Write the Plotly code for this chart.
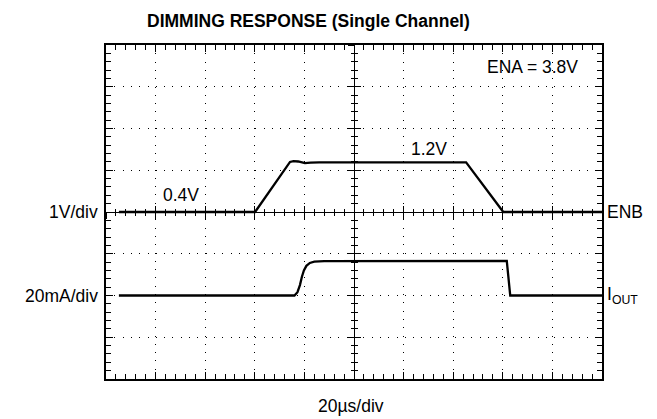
import plotly.graph_objects as go

# Time axis in microseconds (20 us/div, 10 divisions); vertical axis in divisions
enb_t = [5.2, 60.1, 74.2, 75.6, 77.5, 80.2, 82.5, 86.0, 145.2, 160.2, 200.0]
enb_v = [0.0, 0.0, 1.20, 1.22, 1.21, 1.17, 1.185, 1.19, 1.19, 0.0, 0.0]

iout_t = [5.2, 76.0, 77.2, 78.2, 79.0, 79.8, 80.8, 82.2, 84.0, 88.0, 161.6, 163.0, 200.0]
iout_v = [-2.0, -2.0, -1.92, -1.75, -1.55, -1.40, -1.29, -1.22, -1.19, -1.175, -1.17, -2.0, -2.0]

x_range = [0, 200]
y_range = [-4, 4]
x_major, x_minor = 20, 4
y_major, y_minor = 1, 0.2

FONT = "Liberation Sans, Arial, Helvetica, sans-serif"
FS = 17.5

fig = go.Figure()
fig.add_trace(go.Scatter(x=enb_t, y=enb_v, mode="lines",
                         line=dict(color="black", width=2.3), hoverinfo="skip"))
fig.add_trace(go.Scatter(x=iout_t, y=iout_v, mode="lines",
                         line=dict(color="black", width=2.3), hoverinfo="skip"))
# empty traces so the centre-cross axes are drawn
for xa, ya in [("x2", "y"), ("x3", "y"), ("x", "y2"), ("x", "y3")]:
    fig.add_trace(go.Scatter(x=[None], y=[None], xaxis=xa, yaxis=ya, showlegend=False,
                             hoverinfo="skip"))

border = dict(showline=True, linecolor="black", linewidth=2, mirror="ticks",
              ticks="inside", ticklen=7, tickwidth=1, tickcolor="black",
              showticklabels=False, showgrid=True, gridcolor="black",
              gridwidth=1, griddash="1px,7.3px", zeroline=False, fixedrange=True)

fig.update_layout(
    width=657, height=419,
    margin=dict(l=106, r=55, t=45, b=40),
    paper_bgcolor="white", plot_bgcolor="white",
    showlegend=False,
    font=dict(family=FONT, size=FS, color="black"),
    xaxis=dict(range=x_range, dtick=x_major, tick0=0,
               minor=dict(dtick=x_minor, tick0=0, ticks="inside", ticklen=5,
                          tickwidth=1, tickcolor="black", showgrid=False),
               **border),
    yaxis=dict(range=y_range, dtick=y_major, tick0=0,
               minor=dict(dtick=y_minor, tick0=0, ticks="inside", ticklen=5,
                          tickwidth=1, tickcolor="black", showgrid=False),
               **border),
)

center = dict(showline=True, linecolor="black", linewidth=1, tickwidth=1,
              tickcolor="black", showticklabels=False, showgrid=False,
              zeroline=False, fixedrange=True, anchor="free", position=0.5)
for name, tk in [("xaxis2", "inside"), ("xaxis3", "outside")]:
    fig.layout[name] = dict(overlaying="x", range=x_range, dtick=x_major, tick0=0,
                            ticks=tk, ticklen=6,
                            minor=dict(dtick=x_minor, tick0=0, ticks=tk, ticklen=3,
                                       tickwidth=1, tickcolor="black"),
                            **center)
for name, tk in [("yaxis2", "inside"), ("yaxis3", "outside")]:
    fig.layout[name] = dict(overlaying="y", range=y_range, dtick=y_major, tick0=0,
                            ticks=tk, ticklen=6,
                            minor=dict(dtick=y_minor, tick0=0, ticks=tk, ticklen=3,
                                       tickwidth=1, tickcolor="black"),
                            **center)

ann = [
    dict(text="<b>DIMMING RESPONSE (Single Channel)</b>", xref="paper", yref="paper",
         x=0.409, y=1.072, xanchor="center", yanchor="middle"),
    dict(text="20µs/div", xref="paper", yref="paper", x=0.494, y=-0.08,
         xanchor="center", yanchor="middle"),
    dict(text="1V/div", xref="paper", yref="y", x=-0.012, y=0,
         xanchor="right", yanchor="middle"),
    dict(text="20mA/div", xref="paper", yref="y", x=-0.012, y=-2,
         xanchor="right", yanchor="middle"),
    dict(text="ENB", xref="paper", yref="y", x=1.006, y=0,
         xanchor="left", yanchor="middle"),
    dict(text="I<sub>OUT</sub>", xref="paper", yref="y", x=1.006, y=-2,
         xanchor="left", yanchor="middle"),
    dict(text="ENA = 3.8V", xref="x", yref="y", x=191.1, y=3.48,
         xanchor="right", yanchor="middle"),
    dict(text="1.2V", xref="x", yref="y", x=122.2, y=1.5,
         xanchor="left", yanchor="middle"),
    dict(text="0.4V", xref="x", yref="y", x=22.0, y=0.41,
         xanchor="left", yanchor="middle"),
]
for a in ann:
    a.update(showarrow=False, font=dict(family=FONT, size=FS, color="black"))
fig.update_layout(annotations=ann)

fig.write_html("out.html", config={"displayModeBar": False},
               post_script="document.body.style.margin='0';document.body.style.overflow='hidden';")
